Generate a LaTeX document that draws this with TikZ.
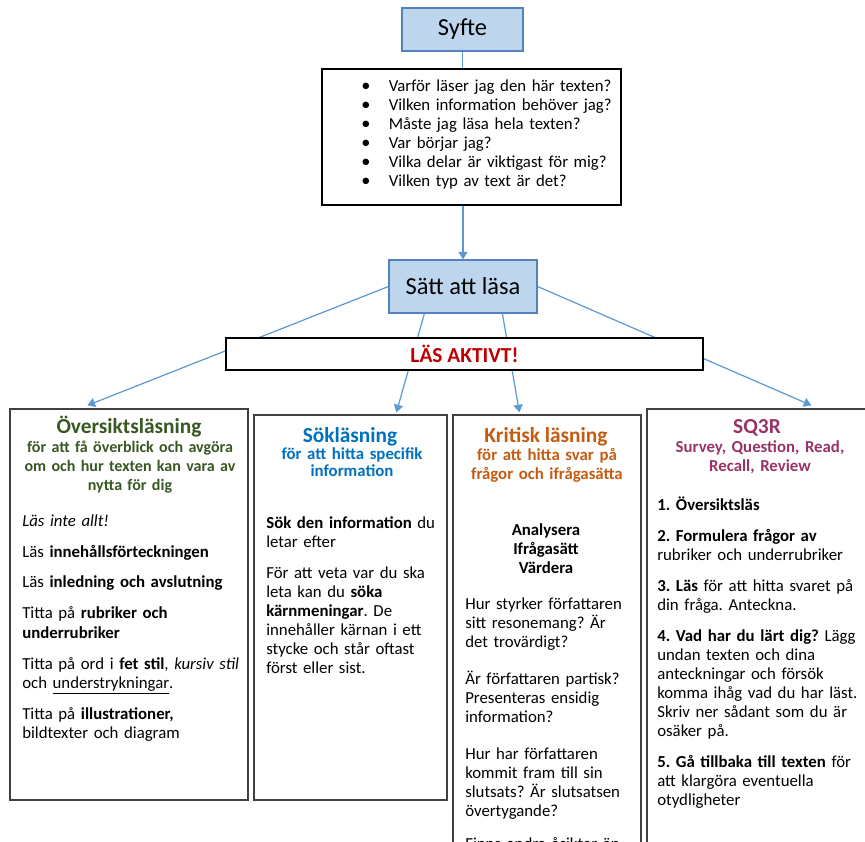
\documentclass[tikz,border=0pt]{standalone}
\usepackage{fontspec}
\setmainfont{Carlito}
\frenchspacing
\usetikzlibrary{arrows.meta,fit,calc}
\definecolor{blafyll}{RGB}{189,214,238}
\definecolor{blakant}{RGB}{84,130,190}
\definecolor{linjebla}{RGB}{91,155,213}
\definecolor{gron}{RGB}{56,87,35}
\definecolor{sokbla}{RGB}{0,112,192}
\definecolor{kritorange}{RGB}{197,90,17}
\definecolor{lila}{RGB}{153,51,102}
\definecolor{rod}{RGB}{192,0,0}
\definecolor{kant}{RGB}{64,64,64}
\tikzset{
  blaruta/.style = {rectangle, draw=blakant, thick, fill=blafyll, inner sep=0},
  ruta/.style    = {rectangle, draw=black, thick, fill=white, inner sep=0},
  kolumn/.style  = {rectangle, draw=kant, thick, inner sep=0},
  stor/.style    = {font=\fontsize{16}{19}\selectfont},
  pil/.style     = {draw=linjebla, thick, -{Triangle[width=6pt,length=5pt]}},
  linje/.style   = {draw=linjebla, thick},
  rubrik/.style  = {anchor=base, inner sep=0, font=\fontsize{14}{17}\selectfont\bfseries},
  under/.style   = {anchor=base, inner sep=0, text width=150pt, align=center, font=\fontsize{11}{12.5}\selectfont\bfseries},
  brod/.style    = {anchor=base west, inner sep=0, text width=150pt, align=left, font=\fontsize{11}{12.5}\selectfont}
}
\begin{document}
\begin{tikzpicture}[x=0.655pt, y=-0.655pt]

  \useasboundingbox (0,0) rectangle (865,841);
  \clip (0,0) rectangle (865,841);

  % syfte
  \node[blaruta, fit={(402,8) (523,51)}] (syfte) {};
  \node[stor] (syftetxt) at (syfte.center) {Syfte};
  \node[ruta, fit={(322,69) (621,205)}] (lista) {};
  \node[brod, text width=200pt] (fragor) at (361,91) {%
    \makebox[18pt][l]{\large\textbullet}Varför läser jag den här texten?\\
    \makebox[18pt][l]{\large\textbullet}Vilken information behöver jag?\\
    \makebox[18pt][l]{\large\textbullet}Måste jag läsa hela texten?\\
    \makebox[18pt][l]{\large\textbullet}Var börjar jag?\\
    \makebox[18pt][l]{\large\textbullet}Vilka delar är viktigast för mig?\\
    \makebox[18pt][l]{\large\textbullet}Vilken typ av text är det?};
  \node[blaruta, fit={(389,260) (537,313)}] (satt) {};
  \node[stor] (satttxt) at (satt.center) {Sätt att läsa};

  % kolumner
  \node[kolumn, fit={(10,409) (248,800)}] (ov) {};
  \node[kolumn, fit={(254,415) (447,800)}] (sok) {};
  \node[kolumn, fit={(453,415) (641,900)}] (krit) {};
  \node[kolumn, fit={(647,409) (868,900)}] (sq) {};

  % pilar
  \draw[linje] (syfte.south) -- (syfte.south |- lista.north);
  \draw[pil] (satt.north |- lista.south) -- (satt.north);
  \draw[pil] (satt.west) -- ($(ov.north west)+(78,-3)$);
  \draw[pil] ($(satt.south west)+(36,0)$) -- ($(sok.north west)+(143,-2)$);
  \draw[pil] ($(satt.south west)+(114,0)$) -- ($(krit.north west)+(67,-2)$);
  \draw[pil] (satt.east) -- ($(sq.north west)+(165,-3)$);

  \node[ruta, fit={(226,338) (703,370)}] (aktivt) {};
  \node[text=rod, font=\fontsize{14}{17}\selectfont\bfseries] (aktivttxt) at (aktivt.center) {LÄS AKTIVT!};

  % översiktsläsning
  \node[rubrik, text=gron] (ovrub) at (129,433) {Översiktsläsning};
  \node[under, text=gron, font=\fontsize{10.5}{12.5}\selectfont\bfseries] (ovund) at (130,452) {för att få överblick och avgöra\\om och hur texten kan vara av\\nytta för dig};
  \node[brod] (ovtxt) at (22,526) {\textit{Läs inte allt!}\\[7.8pt]
    Läs \textbf{innehållsförteckningen}\\[7.8pt]
    Läs \textbf{inledning och avslutning}\\[7.8pt]
    Titta på \textbf{rubriker och}\\\textbf{underrubriker}\\[7.8pt]
    Titta på ord i \textbf{fet stil}, \textit{kursiv stil}\\och \underline{understrykningar}.\\[7.8pt]
    Titta på \textbf{illustrationer,}\\bildtexter och diagram};

  % sökläsning
  \node[rubrik, text=sokbla] (sokrub) at (350,442) {Sökläsning};
  \node[under, text=sokbla] (sokund) at (352,459) {för att hitta specifik\\[-1.3pt]information};
  \node[brod] (soktxt) at (266,528) {\textbf{Sök den information} du\\letar efter\\[7.8pt]
    För att veta var du ska\\leta kan du \textbf{söka}\\\textbf{kärnmeningar}. De\\innehåller kärnan i ett\\stycke och står oftast\\först eller sist.};

  % kritisk läsning
  \node[rubrik, text=kritorange] (kritrub) at (546,442) {Kritisk läsning};
  \node[under, text=kritorange] (kritund) at (547,460) {för att hitta svar på\\frågor och ifrågasätta};
  \node[under] (kritord) at (546,535) {Analysera\\Ifrågasätt\\Värdera};
  \node[brod] (krittxt) at (465,609) {Hur styrker författaren\\sitt resonemang? Är\\det trovärdigt?\\[11.8pt]
    Är författaren partisk?\\Presenteras ensidig\\information?\\[11.8pt]
    Hur har författaren\\kommit fram till sin\\slutsats? Är slutsatsen\\övertygande?\\[9pt]
    Finns andra åsikter än};

  % sq3r
  \node[rubrik, text=lila] (sqrub) at (757,433) {SQ3R};
  \node[under, text=lila] (sqund) at (760,452) {Survey, Question, Read,\\Recall, Review};
  \node[brod] (sqtxt) at (657,510) {\textbf{1. Översiktsläs}\\[7.8pt]
    \textbf{2. Formulera frågor av}\\rubriker och underrubriker\\[7.8pt]
    \textbf{3. Läs} för att hitta svaret på\\din fråga. Anteckna.\\[7.8pt]
    \textbf{4. Vad har du lärt dig?} Lägg\\undan texten och dina\\anteckningar och försök\\komma ihåg vad du har läst.\\Skriv ner sådant som du är\\osäker på.\\[7.8pt]
    \textbf{5. Gå tillbaka till texten} för\\att klargöra eventuella\\otydligheter};

\end{tikzpicture}
\end{document}
